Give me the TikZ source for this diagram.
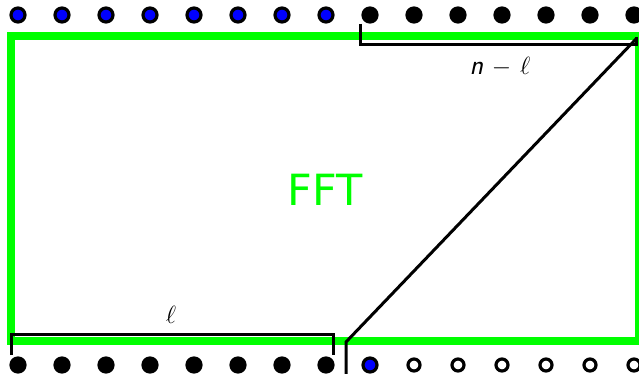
\documentclass[tikz,border=0pt]{standalone}
\usepackage{fontspec}
\newfontfamily\fftfont{DejaVu Sans}
\begin{document}
\begin{tikzpicture}[x=1pt,y=-1pt,
  dotbase/.style={circle,inner sep=0pt,minimum size=14pt,line width=3.2pt,draw=black},
  bluedot/.style={dotbase,fill=blue},
  blackdot/.style={dotbase,fill=black},
  opendot/.style={dotbase,fill=white,minimum size=12pt},
  fftbox/.style={draw=green,line width=7.5pt},
  bracket/.style={draw=black,line width=3pt,line join=miter},
  lbl/.style={font=\fontsize{28}{28}\selectfont\sffamily\itshape}]
\useasboundingbox (0,0) rectangle (639,374);
\begin{scope}
\clip (0,0) rectangle (639,374);
\draw[fftbox] (11,36) rectangle (639,341);
\end{scope}
\node[text=green,font=\fftfont\fontsize{43}{43}\selectfont] (fft) at (325,190) {FFT};
% top row
\foreach \i in {1,...,8} {\node[bluedot] (t\i) at ({18+(\i-1)*44},15) {};}
\foreach \i in {9,...,15} {\node[blackdot] (t\i) at ({18+(\i-1)*44},15) {};}
% bottom row
\foreach \i in {1,...,8} {\node[blackdot] (b\i) at ({18+(\i-1)*44},365) {};}
\node[bluedot] (b9) at (370,365) {};
\foreach \i in {10,...,15} {\node[opendot] (b\i) at ({18+(\i-1)*44},365) {};}
% brackets
\coordinate (tb1) at (360,24);
\coordinate (tb2) at (360,45);
\coordinate (tb3) at (636,45);
\coordinate (tb4) at (636,37);
\draw[bracket] (tb1) -- (tb2) -- (tb3) -- (tb4);
\coordinate (bb1) at (11,355);
\coordinate (bb2) at (11,334);
\coordinate (bb3) at (333,334);
\coordinate (bb4) at (333,355);
\draw[bracket] (bb1) -- (bb2) -- (bb3) -- (bb4);
% diagonal
\coordinate (dB) at (346,378);
\coordinate (d0) at (346,342);
\coordinate (d1) at (636,39);
\draw[bracket] (dB) -- (d0) -- (d1);
% labels
\node[lbl] (lab1) at (500,67) {n $-$ $\ell$};
\node[lbl] (lab2) at (171,315) {$\ell$};
\end{tikzpicture}
\end{document}
